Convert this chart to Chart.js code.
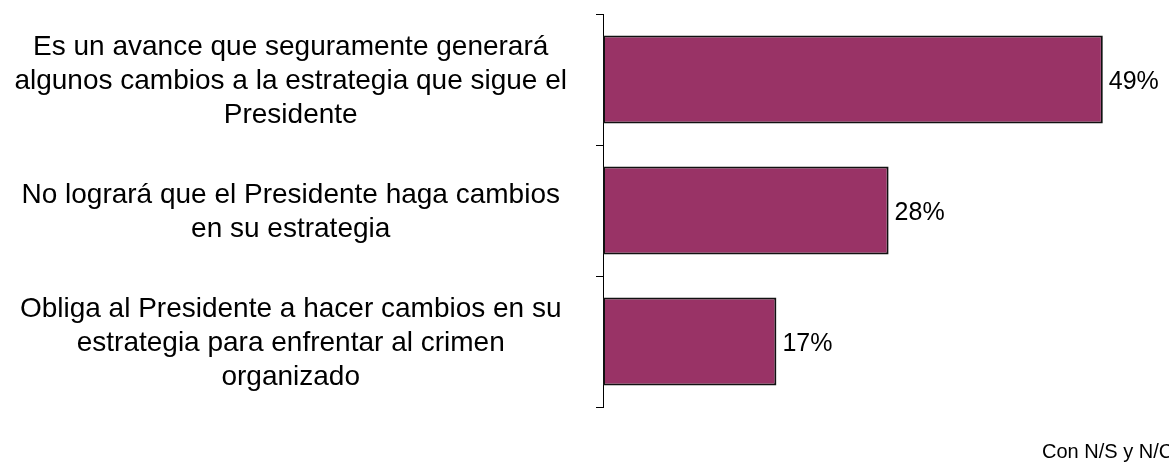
<!DOCTYPE html>
<html>
<head>
<meta charset="utf-8">
<script src="https://cdn.jsdelivr.net/npm/chart.js@4"></script>
<style>
  html, body { margin: 0; padding: 0; background: #fff; }
  #wrap { width: 1169px; height: 462px; position: relative; }
</style>
</head>
<body>
<div id="wrap"><canvas id="bars"></canvas></div>
<script>
// categories (one array of lines per label) and values in %
const categories = [
    ["Es un avance que seguramente generará", "algunos cambios a la estrategia que sigue el", "Presidente"],
    ["No logrará que el Presidente haga cambios", "en su estrategia"],
    ["Obliga al Presidente a hacer cambios en su", "estrategia para enfrentar al crimen", "organizado"]
];
const values = [49, 28, 17];
const footnote = "Con N/S y N/C";

const fontFamily = "'Liberation Sans', Arial, sans-serif";

// percent labels to the right of each bar
const valueLabels = {
    id: "valueLabels",
    afterDatasetsDraw(chart) {
        const ctx = chart.ctx;
        const meta = chart.getDatasetMeta(0);
        ctx.save();
        ctx.font = "25px " + fontFamily;
        ctx.fillStyle = "#000";
        ctx.textAlign = "left";
        ctx.textBaseline = "middle";
        meta.data.forEach((bar, i) => {
            ctx.fillText(values[i] + "%", bar.x + 6, bar.y + 3);
        });
        ctx.restore();
    }
};

const footnotePlugin = {
    id: "footnote",
    afterDraw(chart) {
        const ctx = chart.ctx;
        ctx.save();
        ctx.font = "20px " + fontFamily;
        ctx.fillStyle = "#000";
        ctx.textAlign = "left";
        ctx.textBaseline = "alphabetic";
        ctx.fillText(footnote, 1042, 458);
        ctx.restore();
    }
};

new Chart(document.getElementById("bars"), {
    type: "bar",
    data: {
        labels: categories,
        datasets: [{
            data: values,
            backgroundColor: "#993366",
            borderColor: "#111",
            borderWidth: 2,
            borderSkipped: false,
            categoryPercentage: 1,
            barPercentage: 0.67
        }]
    },
    plugins: [valueLabels, footnotePlugin],
    options: {
        indexAxis: "y",
        responsive: true,
        maintainAspectRatio: false,
        animation: false,
        layout: { padding: { top: 14, bottom: 55, left: 0, right: 5 } },
        plugins: {
            legend: { display: false },
            tooltip: { enabled: false }
        },
        scales: {
            x: {
                display: false,
                min: 0,
                max: 55
            },
            y: {
                afterFit: function (scale) {
                    scale.width = 603;
                    scale.paddingTop = 0;
                    scale.paddingBottom = 0;
                },
                border: { display: true, color: "#000", width: 1 },
                grid: {
                    display: true,
                    drawOnChartArea: false,
                    drawTicks: true,
                    tickLength: 7,
                    offset: true,
                    color: "#000"
                },
                ticks: {
                    crossAlign: "center",
                    padding: 29,
                    labelOffset: 2,
                    color: "#000",
                    font: { family: fontFamily, size: 28, lineHeight: 1.22 }
                }
            }
        }
    }
});
</script>
</body>
</html>
